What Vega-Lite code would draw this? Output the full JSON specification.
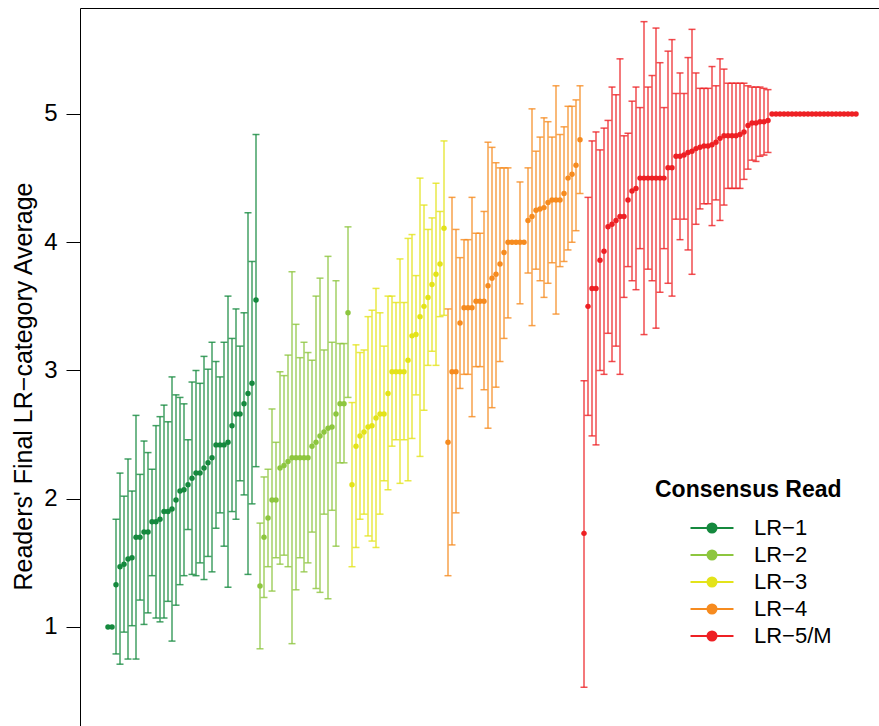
{
  "$schema": "https://vega.github.io/schema/vega-lite/v6.json",
  "autosize": "none",
  "width": 799,
  "height": 718,
  "padding": {"left": 80, "top": 8, "right": 0, "bottom": 0},
  "background": "white",
  "config": {"view": {"stroke": null}, "font": "Liberation Sans"},
  "data": {"values": [
    {"i":1,"g":"LR−1","m":1.0,"lo":null,"hi":null},
    {"i":2,"g":"LR−1","m":1.0,"lo":null,"hi":null},
    {"i":3,"g":"LR−1","m":1.33,"lo":0.79,"hi":1.84},
    {"i":4,"g":"LR−1","m":1.47,"lo":0.71,"hi":2.2},
    {"i":5,"g":"LR−1","m":1.49,"lo":0.96,"hi":2.02},
    {"i":6,"g":"LR−1","m":1.53,"lo":0.75,"hi":2.31},
    {"i":7,"g":"LR−1","m":1.54,"lo":1.01,"hi":2.06},
    {"i":8,"g":"LR−1","m":1.7,"lo":0.75,"hi":2.65},
    {"i":9,"g":"LR−1","m":1.7,"lo":1.21,"hi":2.19},
    {"i":10,"g":"LR−1","m":1.74,"lo":1.02,"hi":2.45},
    {"i":11,"g":"LR−1","m":1.74,"lo":1.11,"hi":2.36},
    {"i":12,"g":"LR−1","m":1.82,"lo":1.4,"hi":2.23},
    {"i":13,"g":"LR−1","m":1.82,"lo":1.07,"hi":2.57},
    {"i":14,"g":"LR−1","m":1.84,"lo":1.04,"hi":2.64},
    {"i":15,"g":"LR−1","m":1.9,"lo":1.07,"hi":2.73},
    {"i":16,"g":"LR−1","m":1.9,"lo":1.2,"hi":2.6},
    {"i":17,"g":"LR−1","m":1.92,"lo":0.89,"hi":2.95},
    {"i":18,"g":"LR−1","m":1.99,"lo":1.17,"hi":2.81},
    {"i":19,"g":"LR−1","m":2.06,"lo":1.33,"hi":2.79},
    {"i":20,"g":"LR−1","m":2.07,"lo":1.4,"hi":2.74},
    {"i":21,"g":"LR−1","m":2.11,"lo":1.76,"hi":2.46},
    {"i":22,"g":"LR−1","m":2.16,"lo":1.41,"hi":2.91},
    {"i":23,"g":"LR−1","m":2.2,"lo":1.4,"hi":3.0},
    {"i":24,"g":"LR−1","m":2.2,"lo":1.5,"hi":2.9},
    {"i":25,"g":"LR−1","m":2.24,"lo":1.37,"hi":3.11},
    {"i":26,"g":"LR−1","m":2.28,"lo":1.55,"hi":3.01},
    {"i":27,"g":"LR−1","m":2.32,"lo":1.43,"hi":3.22},
    {"i":28,"g":"LR−1","m":2.42,"lo":1.77,"hi":3.07},
    {"i":29,"g":"LR−1","m":2.42,"lo":1.89,"hi":2.95},
    {"i":30,"g":"LR−1","m":2.42,"lo":1.63,"hi":3.22},
    {"i":31,"g":"LR−1","m":2.44,"lo":1.31,"hi":3.58},
    {"i":32,"g":"LR−1","m":2.57,"lo":1.9,"hi":3.25},
    {"i":33,"g":"LR−1","m":2.66,"lo":1.84,"hi":3.48},
    {"i":34,"g":"LR−1","m":2.66,"lo":2.14,"hi":3.19},
    {"i":35,"g":"LR−1","m":2.74,"lo":2.03,"hi":3.45},
    {"i":36,"g":"LR−1","m":2.82,"lo":1.41,"hi":4.23},
    {"i":37,"g":"LR−1","m":2.9,"lo":1.96,"hi":3.85},
    {"i":38,"g":"LR−1","m":3.55,"lo":2.25,"hi":4.84},
    {"i":39,"g":"LR−2","m":1.32,"lo":0.83,"hi":1.81},
    {"i":40,"g":"LR−2","m":1.7,"lo":1.23,"hi":2.17},
    {"i":41,"g":"LR−2","m":1.85,"lo":1.47,"hi":2.23},
    {"i":42,"g":"LR−2","m":1.99,"lo":1.28,"hi":2.7},
    {"i":43,"g":"LR−2","m":1.99,"lo":1.54,"hi":2.44},
    {"i":44,"g":"LR−2","m":2.24,"lo":1.49,"hi":2.99},
    {"i":45,"g":"LR−2","m":2.26,"lo":1.56,"hi":2.96},
    {"i":46,"g":"LR−2","m":2.29,"lo":1.47,"hi":3.12},
    {"i":47,"g":"LR−2","m":2.32,"lo":0.87,"hi":3.77},
    {"i":48,"g":"LR−2","m":2.32,"lo":1.29,"hi":3.36},
    {"i":49,"g":"LR−2","m":2.32,"lo":1.54,"hi":3.1},
    {"i":50,"g":"LR−2","m":2.32,"lo":1.43,"hi":3.22},
    {"i":51,"g":"LR−2","m":2.32,"lo":1.5,"hi":3.14},
    {"i":52,"g":"LR−2","m":2.41,"lo":1.74,"hi":3.08},
    {"i":53,"g":"LR−2","m":2.44,"lo":1.3,"hi":3.58},
    {"i":54,"g":"LR−2","m":2.49,"lo":1.27,"hi":3.72},
    {"i":55,"g":"LR−2","m":2.52,"lo":1.88,"hi":3.16},
    {"i":56,"g":"LR−2","m":2.55,"lo":1.22,"hi":3.89},
    {"i":57,"g":"LR−2","m":2.56,"lo":1.91,"hi":3.22},
    {"i":58,"g":"LR−2","m":2.66,"lo":1.63,"hi":3.7},
    {"i":59,"g":"LR−2","m":2.74,"lo":2.28,"hi":3.21},
    {"i":60,"g":"LR−2","m":2.74,"lo":2.28,"hi":3.21},
    {"i":61,"g":"LR−2","m":3.45,"lo":2.79,"hi":4.12},
    {"i":62,"g":"LR−3","m":2.11,"lo":1.47,"hi":2.75},
    {"i":63,"g":"LR−3","m":2.41,"lo":1.62,"hi":3.2},
    {"i":64,"g":"LR−3","m":2.49,"lo":1.84,"hi":3.14},
    {"i":65,"g":"LR−3","m":2.52,"lo":1.88,"hi":3.16},
    {"i":66,"g":"LR−3","m":2.56,"lo":1.71,"hi":3.42},
    {"i":67,"g":"LR−3","m":2.57,"lo":1.67,"hi":3.47},
    {"i":68,"g":"LR−3","m":2.63,"lo":1.62,"hi":3.64},
    {"i":69,"g":"LR−3","m":2.66,"lo":1.88,"hi":3.45},
    {"i":70,"g":"LR−3","m":2.66,"lo":2.14,"hi":3.19},
    {"i":71,"g":"LR−3","m":2.82,"lo":2.07,"hi":3.58},
    {"i":72,"g":"LR−3","m":2.99,"lo":2.41,"hi":3.58},
    {"i":73,"g":"LR−3","m":2.99,"lo":2.46,"hi":3.53},
    {"i":74,"g":"LR−3","m":2.99,"lo":2.12,"hi":3.87},
    {"i":75,"g":"LR−3","m":2.99,"lo":2.46,"hi":3.53},
    {"i":76,"g":"LR−3","m":3.08,"lo":2.14,"hi":4.03},
    {"i":77,"g":"LR−3","m":3.27,"lo":2.47,"hi":4.06},
    {"i":78,"g":"LR−3","m":3.28,"lo":2.81,"hi":3.74},
    {"i":79,"g":"LR−3","m":3.42,"lo":2.33,"hi":4.5},
    {"i":80,"g":"LR−3","m":3.5,"lo":2.69,"hi":4.29},
    {"i":81,"g":"LR−3","m":3.57,"lo":3.04,"hi":4.1},
    {"i":82,"g":"LR−3","m":3.67,"lo":3.15,"hi":4.19},
    {"i":83,"g":"LR−3","m":3.75,"lo":3.04,"hi":4.46},
    {"i":84,"g":"LR−3","m":3.83,"lo":3.42,"hi":4.24},
    {"i":85,"g":"LR−3","m":4.11,"lo":3.43,"hi":4.79},
    {"i":86,"g":"LR−4","m":2.44,"lo":1.4,"hi":3.48},
    {"i":87,"g":"LR−4","m":2.99,"lo":1.64,"hi":4.35},
    {"i":88,"g":"LR−4","m":2.99,"lo":1.89,"hi":4.1},
    {"i":89,"g":"LR−4","m":3.37,"lo":2.86,"hi":3.88},
    {"i":90,"g":"LR−4","m":3.49,"lo":2.97,"hi":4.02},
    {"i":91,"g":"LR−4","m":3.49,"lo":2.97,"hi":4.02},
    {"i":92,"g":"LR−4","m":3.49,"lo":2.64,"hi":4.35},
    {"i":93,"g":"LR−4","m":3.54,"lo":3.03,"hi":4.07},
    {"i":94,"g":"LR−4","m":3.54,"lo":3.03,"hi":4.07},
    {"i":95,"g":"LR−4","m":3.54,"lo":2.85,"hi":4.24},
    {"i":96,"g":"LR−4","m":3.66,"lo":2.55,"hi":4.78},
    {"i":97,"g":"LR−4","m":3.72,"lo":2.71,"hi":4.74},
    {"i":98,"g":"LR−4","m":3.75,"lo":2.87,"hi":4.62},
    {"i":99,"g":"LR−4","m":3.83,"lo":3.07,"hi":4.58},
    {"i":100,"g":"LR−4","m":3.92,"lo":3.25,"hi":4.58},
    {"i":101,"g":"LR−4","m":4.0,"lo":3.41,"hi":4.58},
    {"i":102,"g":"LR−4","m":4.0,"lo":null,"hi":null},
    {"i":103,"g":"LR−4","m":4.0,"lo":null,"hi":null},
    {"i":104,"g":"LR−4","m":4.0,"lo":3.52,"hi":4.47},
    {"i":105,"g":"LR−4","m":4.0,"lo":null,"hi":null},
    {"i":106,"g":"LR−4","m":4.17,"lo":3.76,"hi":4.58},
    {"i":107,"g":"LR−4","m":4.2,"lo":3.35,"hi":5.04},
    {"i":108,"g":"LR−4","m":4.25,"lo":3.79,"hi":4.71},
    {"i":109,"g":"LR−4","m":4.26,"lo":3.7,"hi":4.82},
    {"i":110,"g":"LR−4","m":4.27,"lo":3.57,"hi":4.97},
    {"i":111,"g":"LR−4","m":4.31,"lo":3.68,"hi":4.94},
    {"i":112,"g":"LR−4","m":4.33,"lo":3.84,"hi":4.82},
    {"i":113,"g":"LR−4","m":4.33,"lo":3.44,"hi":5.22},
    {"i":114,"g":"LR−4","m":4.33,"lo":3.81,"hi":4.84},
    {"i":115,"g":"LR−4","m":4.38,"lo":3.85,"hi":4.9},
    {"i":116,"g":"LR−4","m":4.5,"lo":3.94,"hi":5.06},
    {"i":117,"g":"LR−4","m":4.53,"lo":4.0,"hi":5.06},
    {"i":118,"g":"LR−4","m":4.6,"lo":4.09,"hi":5.11},
    {"i":119,"g":"LR−4","m":4.8,"lo":4.38,"hi":5.22},
    {"i":120,"g":"LR−5/M","m":1.73,"lo":0.53,"hi":2.92},
    {"i":121,"g":"LR−5/M","m":3.5,"lo":2.65,"hi":4.35},
    {"i":122,"g":"LR−5/M","m":3.64,"lo":2.49,"hi":4.79},
    {"i":123,"g":"LR−5/M","m":3.64,"lo":2.42,"hi":4.86},
    {"i":124,"g":"LR−5/M","m":3.86,"lo":3.0,"hi":4.72},
    {"i":125,"g":"LR−5/M","m":3.93,"lo":2.97,"hi":4.89},
    {"i":126,"g":"LR−5/M","m":4.12,"lo":3.29,"hi":4.95},
    {"i":127,"g":"LR−5/M","m":4.14,"lo":3.07,"hi":5.21},
    {"i":128,"g":"LR−5/M","m":4.17,"lo":3.19,"hi":5.15},
    {"i":129,"g":"LR−5/M","m":4.2,"lo":2.97,"hi":5.43},
    {"i":130,"g":"LR−5/M","m":4.2,"lo":3.57,"hi":4.83},
    {"i":131,"g":"LR−5/M","m":4.33,"lo":3.81,"hi":4.85},
    {"i":132,"g":"LR−5/M","m":4.4,"lo":3.7,"hi":5.1},
    {"i":133,"g":"LR−5/M","m":4.42,"lo":3.63,"hi":5.21},
    {"i":134,"g":"LR−5/M","m":4.5,"lo":3.95,"hi":5.05},
    {"i":135,"g":"LR−5/M","m":4.5,"lo":3.28,"hi":5.72},
    {"i":136,"g":"LR−5/M","m":4.5,"lo":3.79,"hi":5.21},
    {"i":137,"g":"LR−5/M","m":4.5,"lo":3.7,"hi":5.3},
    {"i":138,"g":"LR−5/M","m":4.5,"lo":3.33,"hi":5.67},
    {"i":139,"g":"LR−5/M","m":4.5,"lo":3.61,"hi":5.4},
    {"i":140,"g":"LR−5/M","m":4.5,"lo":3.95,"hi":5.05},
    {"i":141,"g":"LR−5/M","m":4.58,"lo":3.68,"hi":5.49},
    {"i":142,"g":"LR−5/M","m":4.58,"lo":3.58,"hi":5.58},
    {"i":143,"g":"LR−5/M","m":4.67,"lo":4.18,"hi":5.16},
    {"i":144,"g":"LR−5/M","m":4.67,"lo":4.02,"hi":5.32},
    {"i":145,"g":"LR−5/M","m":4.68,"lo":4.18,"hi":5.16},
    {"i":146,"g":"LR−5/M","m":4.7,"lo":3.94,"hi":5.44},
    {"i":147,"g":"LR−5/M","m":4.71,"lo":3.75,"hi":5.66},
    {"i":148,"g":"LR−5/M","m":4.73,"lo":4.14,"hi":5.32},
    {"i":149,"g":"LR−5/M","m":4.74,"lo":4.26,"hi":5.2},
    {"i":150,"g":"LR−5/M","m":4.75,"lo":4.3,"hi":5.2},
    {"i":151,"g":"LR−5/M","m":4.75,"lo":4.3,"hi":5.2},
    {"i":152,"g":"LR−5/M","m":4.76,"lo":4.13,"hi":5.37},
    {"i":153,"g":"LR−5/M","m":4.78,"lo":4.33,"hi":5.22},
    {"i":154,"g":"LR−5/M","m":4.81,"lo":4.17,"hi":5.43},
    {"i":155,"g":"LR−5/M","m":4.83,"lo":4.29,"hi":5.35},
    {"i":156,"g":"LR−5/M","m":4.83,"lo":4.42,"hi":5.24},
    {"i":157,"g":"LR−5/M","m":4.83,"lo":4.42,"hi":5.24},
    {"i":158,"g":"LR−5/M","m":4.83,"lo":4.42,"hi":5.24},
    {"i":159,"g":"LR−5/M","m":4.84,"lo":4.42,"hi":5.24},
    {"i":160,"g":"LR−5/M","m":4.86,"lo":4.49,"hi":5.24},
    {"i":161,"g":"LR−5/M","m":4.91,"lo":4.57,"hi":5.22},
    {"i":162,"g":"LR−5/M","m":4.93,"lo":4.64,"hi":5.21},
    {"i":163,"g":"LR−5/M","m":4.93,"lo":4.63,"hi":5.21},
    {"i":164,"g":"LR−5/M","m":4.94,"lo":4.67,"hi":5.21},
    {"i":165,"g":"LR−5/M","m":4.94,"lo":4.68,"hi":5.2},
    {"i":166,"g":"LR−5/M","m":4.95,"lo":4.7,"hi":5.19},
    {"i":167,"g":"LR−5/M","m":5.0,"lo":null,"hi":null},
    {"i":168,"g":"LR−5/M","m":5.0,"lo":null,"hi":null},
    {"i":169,"g":"LR−5/M","m":5.0,"lo":null,"hi":null},
    {"i":170,"g":"LR−5/M","m":5.0,"lo":null,"hi":null},
    {"i":171,"g":"LR−5/M","m":5.0,"lo":null,"hi":null},
    {"i":172,"g":"LR−5/M","m":5.0,"lo":null,"hi":null},
    {"i":173,"g":"LR−5/M","m":5.0,"lo":null,"hi":null},
    {"i":174,"g":"LR−5/M","m":5.0,"lo":null,"hi":null},
    {"i":175,"g":"LR−5/M","m":5.0,"lo":null,"hi":null},
    {"i":176,"g":"LR−5/M","m":5.0,"lo":null,"hi":null},
    {"i":177,"g":"LR−5/M","m":5.0,"lo":null,"hi":null},
    {"i":178,"g":"LR−5/M","m":5.0,"lo":null,"hi":null},
    {"i":179,"g":"LR−5/M","m":5.0,"lo":null,"hi":null},
    {"i":180,"g":"LR−5/M","m":5.0,"lo":null,"hi":null},
    {"i":181,"g":"LR−5/M","m":5.0,"lo":null,"hi":null},
    {"i":182,"g":"LR−5/M","m":5.0,"lo":null,"hi":null},
    {"i":183,"g":"LR−5/M","m":5.0,"lo":null,"hi":null},
    {"i":184,"g":"LR−5/M","m":5.0,"lo":null,"hi":null},
    {"i":185,"g":"LR−5/M","m":5.0,"lo":null,"hi":null},
    {"i":186,"g":"LR−5/M","m":5.0,"lo":null,"hi":null},
    {"i":187,"g":"LR−5/M","m":5.0,"lo":null,"hi":null},
    {"i":188,"g":"LR−5/M","m":5.0,"lo":null,"hi":null}
  ]},
  "encoding": {
    "x": {"field": "i", "type": "quantitative",
      "scale": {"domain": [-6, 193.75], "nice": false, "zero": false},
      "axis": {"orient": "top", "title": null, "labels": false, "ticks": false, "grid": false,
               "domain": true, "domainColor": "black", "domainWidth": 1}},
    "color": {"field": "g", "type": "nominal",
      "scale": {"domain": ["LR−1", "LR−2", "LR−3", "LR−4", "LR−5/M"],
                "range": ["#15893e", "#8dc63f", "#e3e31a", "#f68b1f", "#ee2024"]},
      "legend": {"orient": "none", "legendX": 575, "legendY": 471, "title": "Consensus Read",
                 "titleFontSize": 23, "titleFontWeight": "bold", "titleColor": "black", "titlePadding": 14,
                 "titleLimit": 400, "labelLimit": 300,
                 "labelFontSize": 22, "labelColor": "black", "labelOffset": 30,
                 "symbolType": "M-2,0L2,0M-0.42,0A0.42,0.42,0,1,1,0.42,0A0.42,0.42,0,1,1,-0.42,0Z",
                 "symbolSize": 462, "symbolStrokeWidth": 2, "symbolOffset": 45, "rowPadding": 4,
                 "symbolOpacity": 1, "padding": 0,
                 "encode": {"symbols": {"update": {"stroke": {"field": "value", "scale": "color"}, "fill": {"field": "value", "scale": "color"}, "opacity": {"value": 1}, "strokeOpacity": {"value": 1}, "fillOpacity": {"value": 1}}}}}
    }
  },
  "layer": [
    {
      "transform": [{"filter": "datum.lo != null"}],
      "mark": {"type": "rule", "strokeWidth": 1.5, "opacity": 0.8},
      "encoding": {
        "y": {"field": "lo", "type": "quantitative"},
        "y2": {"field": "hi"}
      }
    },
    {
      "transform": [{"filter": "datum.lo != null"}],
      "mark": {"type": "tick", "orient": "horizontal", "size": 7, "thickness": 1.5, "opacity": 0.8},
      "encoding": {
        "y": {"field": "lo", "type": "quantitative"}
      }
    },
    {
      "transform": [{"filter": "datum.lo != null"}],
      "mark": {"type": "tick", "orient": "horizontal", "size": 7, "thickness": 1.5, "opacity": 0.8},
      "encoding": {
        "y": {"field": "hi", "type": "quantitative"}
      }
    },
    {
      "mark": {"type": "point", "filled": true, "size": 30, "opacity": 1},
      "encoding": {
        "y": {"field": "m", "type": "quantitative",
          "scale": {"domain": [0.228, 5.8265], "nice": false, "zero": false},
          "axis": {"title": "Readers' Final LR−category Average", "values": [1, 2, 3, 4, 5], "format": "d",
                   "grid": false, "domainColor": "black", "tickColor": "black", "tickSize": 14,
                   "labelFontSize": 24, "labelColor": "black", "labelPadding": 9,
                   "titleFontSize": 25, "titleFontWeight": "normal", "titleColor": "black", "titlePadding": 7,
                   "titleY": 378, "titleLimit": 600}}
      }
    }
  ]
}
